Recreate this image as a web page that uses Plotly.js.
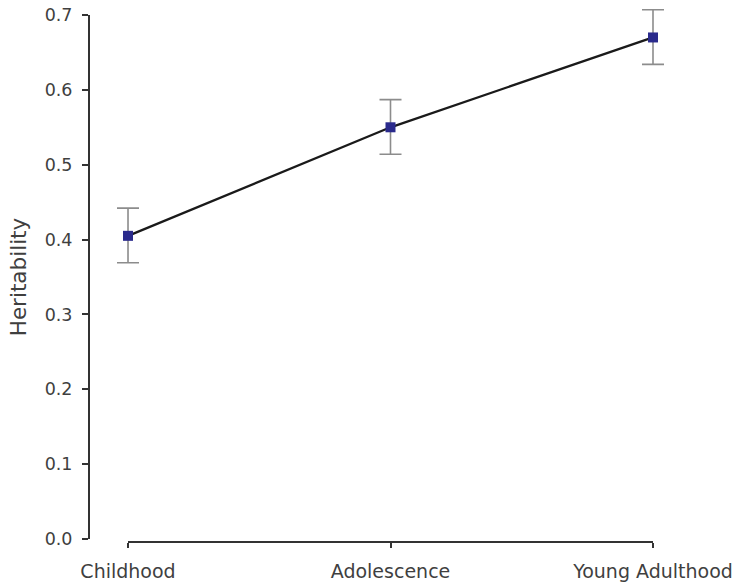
<!DOCTYPE html>
<html>
<head>
<meta charset="utf-8">
<script src="https://cdn.plot.ly/plotly-3.0.1.min.js"></script>
<style>html,body{margin:0;padding:0;background:#fff;}#chart{width:733px;height:583px;}</style>
</head>
<body>
<div id="chart"></div>
<script>
const categories = ["Childhood", "Adolescence", "Young Adulthood"];
const heritability = [0.405, 0.55, 0.67];
const errorPlus = [0.037, 0.037, 0.037];
const errorMinus = [0.036, 0.036, 0.036];
const yTickValues = [0, 0.1, 0.2, 0.3, 0.4, 0.5, 0.6, 0.7];
const emptyValues = [null, null, null];

// data trace on a hidden, slightly wider subplot so error bars are not clipped
const trace = {
  x: categories,
  y: heritability,
  xaxis: "x",
  yaxis: "y",
  type: "scatter",
  mode: "lines+markers",
  line: {color: "#1a1a1a", width: 2.3},
  marker: {symbol: "square", size: 10, color: "#2a2a8c"},
  error_y: {
    type: "data",
    symmetric: false,
    array: errorPlus,
    arrayminus: errorMinus,
    color: "#8c8c8c",
    thickness: 1.6,
    width: 11
  },
  showlegend: false,
  hoverinfo: "skip"
};

// carrier trace for the visible (detached) axes
const axisTrace = {
  x: categories,
  y: emptyValues,
  xaxis: "x2",
  yaxis: "y2",
  type: "scatter",
  mode: "markers",
  showlegend: false,
  hoverinfo: "skip"
};

const axisStyle = {
  showgrid: false,
  zeroline: false,
  showline: true,
  linecolor: "#333333",
  linewidth: 2,
  ticks: "outside",
  tickwidth: 2,
  tickcolor: "#333333",
  fixedrange: true
};

const layout = {
  width: 733,
  height: 583,
  margin: {l: 89, r: 40, t: 5, b: 41},
  paper_bgcolor: "#ffffff",
  plot_bgcolor: "rgba(0,0,0,0)",
  font: {family: "DejaVu Sans, Arial, sans-serif", color: "#3f3f3f"},
  xaxis: {
    type: "category",
    domain: [0, 1],
    range: [-0.1486, 2.1524],
    visible: false,
    fixedrange: true
  },
  yaxis: {
    domain: [0, 1],
    range: [-0.004, 0.71336],
    visible: false,
    fixedrange: true
  },
  xaxis2: Object.assign({}, axisStyle, {
    type: "category",
    domain: [0.06457, 0.93377],
    range: [0, 2],
    anchor: "free",
    position: 0,
    ticklen: 5,
    ticklabelstandoff: 7,
    tickfont: {size: 19, color: "#3f3f3f"}
  }),
  yaxis2: Object.assign({}, axisStyle, {
    domain: [0.005587, 0.98138],
    range: [0, 0.7],
    anchor: "free",
    position: 0,
    tickvals: yTickValues,
    tickformat: ".1f",
    ticklen: 6,
    ticklabelstandoff: 6,
    tickfont: {size: 17.5, color: "#3f3f3f"},
    title: {text: "Heritability", font: {size: 21.5, color: "#3f3f3f"}, standoff: 11}
  })
};

Plotly.newPlot("chart", [trace, axisTrace], layout, {displayModeBar: false, staticPlot: true});
</script>
</body>
</html>
